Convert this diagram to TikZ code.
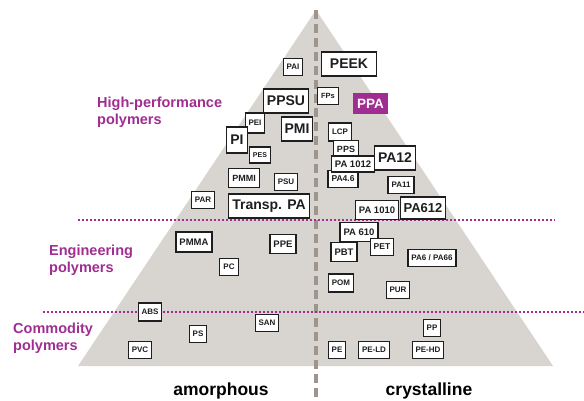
\documentclass[tikz,border=0pt]{standalone}
\usepackage{fontspec}
\setmainfont{Liberation Sans}
\usepackage{tikz}
\usetikzlibrary{positioning}
\definecolor{tri}{HTML}{D8D4D0}
\definecolor{split}{HTML}{9E958C}
\definecolor{lila}{HTML}{A02E92}
\definecolor{ink}{HTML}{1E1E1E}
\tikzset{
    pbox/.style={draw=ink, line width=1.1pt, fill=white, text=ink, inner xsep=3.5pt, inner ysep=0pt, font=\bfseries},
    pbig/.style={pbox, minimum height=24pt, font=\bfseries\fontsize{14}{16}\selectfont},
    pmid/.style={pbox, minimum height=19pt, font=\bfseries\fontsize{9.5}{11}\selectfont},
    psmall/.style={pbox, minimum height=17pt, font=\bfseries\fontsize{8}{9}\selectfont},
    klasse/.style={anchor=north west, inner sep=0pt, align=left, text=lila, font=\bfseries\fontsize{14.5}{17}\selectfont},
    achse/.style={anchor=base, inner sep=0pt, font=\bfseries\fontsize{17.5}{20}\selectfont}
}

\begin{document}
\begin{tikzpicture}[x=1pt, y=-1pt]
    \useasboundingbox (0,0) rectangle (584,400);
    \fill[tri](316,10)--(553,366)--(78,366)--cycle;
    \draw[split, line width=4pt, dash pattern=on 9pt off 5pt](316,10)--(316,400);
    \draw[lila, line width=2pt, dash pattern=on 2pt off 2pt](78,220)--(555,220);
    \draw[lila, line width=2pt, dash pattern=on 2pt off 2pt](43,312)--(584,312);
    % high-performance
    \node[psmall] (pai) at (293,67){PAI};
    \node[pbig, minimum width=55pt] (peek) at (349,64){PEEK};
    \node[pbig] (ppsu) at (286,101){PPSU};
    \node[psmall, font=\bfseries\fontsize{7.5}{9}\selectfont] (fps) at (328,96){FPs};
    \node[pbig, fill=lila, draw=lila, text=white, minimum height=19pt, font=\bfseries\fontsize{13.5}{15}\selectfont] (ppa) at (370.5,103.5){PPA};
    \node[psmall, minimum height=20pt] (pei) at (255,123){PEI};
    \node[pbig, minimum height=26pt] (pi) at (237,140){PI};
    \node[pbig] (pmi) at (297,129){PMI};
    \node[psmall, minimum height=16pt, font=\bfseries\fontsize{7}{8}\selectfont] (pes) at (260,155){PES};
    \node[psmall, minimum height=18pt] (lcp) at (340,132){LCP};
    \node[psmall, font=\bfseries\fontsize{9}{10}\selectfont] (pps) at (346,149){PPS};
    \node[psmall, font=\bfseries\fontsize{8.5}{10}\selectfont] (pa46) at (343,179){PA4.6};
    \node[pmid, minimum height=16pt] (pa1012) at (353,164){PA 1012};
    \node[pbig] (pa12) at (395,158){PA12};
    \node[pmid, font=\bfseries\fontsize{9}{10}\selectfont] (pmmi) at (244,178){PMMI};
    \node[psmall] (psu) at (286,182){PSU};
    \node[psmall] (pa11) at (401,185){PA11};
    \node[pbig] (transp) at (269,206){Transp. PA};
    \node[pmid] (pa1010) at (377,210){PA 1010};
    \node[pbig, minimum height=22pt, font=\bfseries\fontsize{13}{15}\selectfont] (pa612) at (423,208){PA612};
    \node[psmall] (par) at (203,200){PAR};
    % engineering
    \node[pmid, minimum height=20pt] (pmma) at (194,242){PMMA};
    \node[pmid] (ppe) at (283,244){PPE};
    \node[psmall] (pc) at (229,267){PC};
    \node[pmid] (pa610) at (359,232){PA 610};
    \node[pmid] (pbt) at (344,252){PBT};
    \node[psmall, font=\bfseries\fontsize{8.5}{10}\selectfont] (pet) at (382,247){PET};
    \node[psmall] (pa666) at (432,258){PA6 / PA66};
    \node[psmall, minimum height=18pt] (pom) at (341,283){POM};
    \node[psmall] (pur) at (398,290){PUR};
    % commodity
    \node[psmall, minimum height=18pt] (abs) at (150,312){ABS};
    \node[psmall] (san) at (267,323){SAN};
    \node[psmall] (ps) at (198,334){PS};
    \node[psmall] (pvc) at (140,350){PVC};
    \node[psmall] (pp) at (432,328){PP};
    \node[psmall] (pe) at (337,350){PE};
    \node[psmall] (peld) at (374,350){PE-LD};
    \node[psmall] (pehd) at (428,350){PE-HD};
    % labels
    \node[klasse] (hp) at (97,97){High-performance\\polymers};
    \node[klasse] (eng) at (49,245){Engineering\\polymers};
    \node[klasse] (com) at (13,323){Commodity\\polymers};
    \node[achse] (amo) at (221,395){amorphous};
    \node[achse] (cry) at (429,395){crystalline};
\end{tikzpicture}
\end{document}
